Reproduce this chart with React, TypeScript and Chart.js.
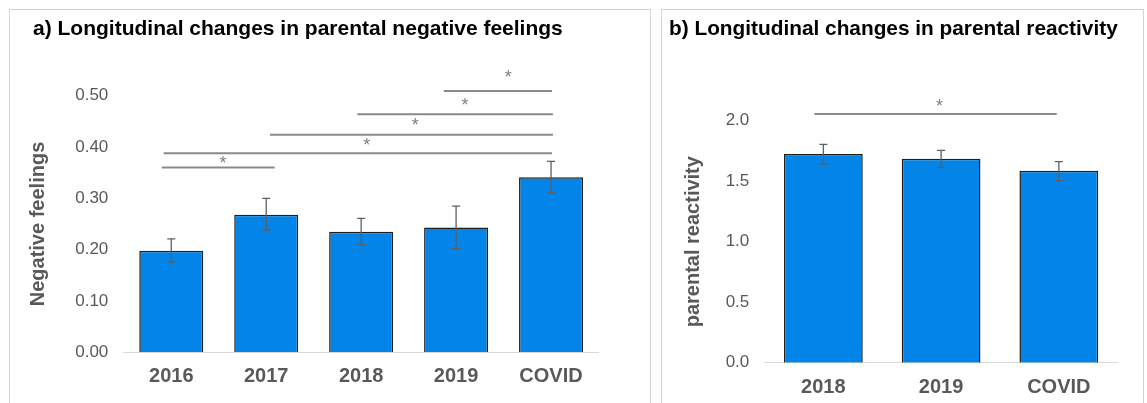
import React, { useEffect, useRef } from "react";
import { Chart, registerables } from "chart.js";
Chart.register(...registerables);

const FONT = "'Liberation Sans', Arial, Helvetica, sans-serif";

// ---------- Panel a data ----------
const categoriesA = ["2016", "2017", "2018", "2019", "COVID"];
const meansA = [0.198, 0.268, 0.235, 0.243, 0.341];
const errLowA = [0.176, 0.238, 0.21, 0.202, 0.311];
const errHighA = [0.221, 0.3, 0.261, 0.285, 0.372];
const yTicksA = [0, 0.1, 0.2, 0.3, 0.4, 0.5];
// [fromIndex, toIndex, value]
const sigLinesA = [
  [-0.1, 1.09, 0.36],
  [-0.08, 4.01, 0.388],
  [1.04, 4.02, 0.424],
  [1.96, 4.02, 0.464],
  [2.87, 4.01, 0.509],
];
// [index, value]
const sigStarsA = [
  [0.545, 0.375],
  [2.06, 0.41],
  [2.57, 0.449],
  [3.095, 0.488],
  [3.55, 0.542],
];

// ---------- Panel b data ----------
const categoriesB = ["2018", "2019", "COVID"];
const meansB = [1.725, 1.686, 1.587];
const errLowB = [1.642, 1.615, 1.504];
const errHighB = [1.805, 1.755, 1.661];
const yTicksB = [0, 0.5, 1, 1.5, 2];
const sigLinesB = [[-0.076, 1.982, 2.055]];
const sigStarsB = [[0.986, 2.144]];

const overlayPlugin = {
  id: "overlay",
  afterDatasetsDraw(chart: any, _args: any, opts: any) {
    const { ctx } = chart;
    const x = chart.scales.x;
    const y = chart.scales.y;
    ctx.save();
    // error bars
    ctx.strokeStyle = "#5f5f5f";
    ctx.lineWidth = 1.3;
    opts.low.forEach((lo: number, i: number) => {
      const px = x.getPixelForValue(i);
      const y0 = y.getPixelForValue(lo);
      const y1 = y.getPixelForValue(opts.high[i]);
      ctx.beginPath();
      ctx.moveTo(px, y0);
      ctx.lineTo(px, y1);
      ctx.moveTo(px - 4, y0);
      ctx.lineTo(px + 4, y0);
      ctx.moveTo(px - 4, y1);
      ctx.lineTo(px + 4, y1);
      ctx.stroke();
    });
    // significance lines
    ctx.strokeStyle = "#8a8a8a";
    ctx.lineWidth = 2;
    opts.lines.forEach(([a, b, v]: number[]) => {
      const py = y.getPixelForValue(v);
      ctx.beginPath();
      ctx.moveTo(x.getPixelForValue(a), py);
      ctx.lineTo(x.getPixelForValue(b), py);
      ctx.stroke();
    });
    ctx.fillStyle = "#808080";
    ctx.font = `18px ${FONT}`;
    ctx.textAlign = "center";
    ctx.textBaseline = "middle";
    opts.stars.forEach(([a, v]: number[]) => {
      ctx.fillText("*", x.getPixelForValue(a), y.getPixelForValue(v) + 4);
    });
    ctx.restore();
  },
};

function makeConfig(p: any): any {
  return {
    type: "bar",
    data: {
      labels: p.labels,
      datasets: [
        {
          data: p.values,
          backgroundColor: "#0284E8",
          borderColor: "#1f1f1f",
          borderWidth: 1.5,
          categoryPercentage: 1,
          barPercentage: p.barPct,
        },
      ],
    },
    plugins: [overlayPlugin],
    options: {
      responsive: false,
      animation: false,
      devicePixelRatio: 1,
      layout: { padding: { left: p.padLeft, right: p.padRight, top: 0, bottom: 0 } },
      plugins: {
        legend: { display: false },
        tooltip: { enabled: false },
        title: {
          display: true,
          text: p.title,
          align: "start",
          color: "#000000",
          font: { family: FONT, size: 21, weight: "bold", lineHeight: 1.2 },
          padding: { top: p.titleTop, bottom: p.titleBottom },
        },
        overlay: { low: p.low, high: p.high, lines: p.lines, stars: p.stars },
      },
      scales: {
        x: {
          grid: { display: false, drawTicks: false },
          border: { display: true, color: "#d9d9d9", width: 1 },
          ticks: {
            color: "#595959",
            font: { family: FONT, size: 20, weight: "bold", lineHeight: 1.2 },
            padding: p.xTickPad,
            maxRotation: 0,
          },
          afterFit: (s: any) => {
            s.height = p.xHeight;
          },
        },
        y: {
          min: 0,
          max: p.yTicks[p.yTicks.length - 1],
          grid: { display: false, drawTicks: false },
          border: { display: false },
          afterBuildTicks: (s: any) => {
            s.ticks = p.yTicks.map((v: number) => ({ value: v }));
          },
          ticks: {
            color: "#595959",
            font: { family: FONT, size: 17 },
            padding: p.yTickPad,
            callback: (v: any) => Number(v).toFixed(p.decimals),
          },
          title: {
            display: true,
            text: p.yTitle,
            color: "#595959",
            font: { family: FONT, size: 20, weight: "bold", lineHeight: 0.5 },
            padding: { top: p.yTitlePad, bottom: 0 },
          },
          afterFit: (s: any) => {
            s.width = p.yWidth;
          },
        },
      },
    },
  };
}

const panelA = {
  labels: categoriesA,
  values: meansA,
  low: errLowA,
  high: errHighA,
  lines: sigLinesA,
  stars: sigStarsA,
  yTicks: yTicksA,
  decimals: 2,
  title: "a) Longitudinal changes in parental negative feelings",
  yTitle: "Negative feelings",
  barPct: 0.674,
  padLeft: 21,
  padRight: 14.5,
  titleTop: 16.7,
  titleBottom: 53.8,
  xTickPad: 12.4,
  xHeight: 50.7,
  yTickPad: 15.5,
  yWidth: 90.8,
  yTitlePad: 0,
};

const panelB = {
  labels: categoriesB,
  values: meansB,
  low: errLowB,
  high: errHighB,
  lines: sigLinesB,
  stars: sigStarsB,
  yTicks: yTicksB,
  decimals: 1,
  title: "b) Longitudinal changes in parental reactivity",
  yTitle: "parental reactivity",
  barPct: 0.669,
  padLeft: 0,
  padRight: 26.3,
  titleTop: 16.4,
  titleBottom: 79.1,
  xTickPad: 12.8,
  xHeight: 40.3,
  yTickPad: 15.2,
  yWidth: 95.5,
  yTitlePad: 19,
};

function Panel({ p, left, width }: any) {
  const ref = useRef<HTMLCanvasElement | null>(null);
  useEffect(() => {
    const chart = new Chart(ref.current as HTMLCanvasElement, makeConfig(p));
    return () => chart.destroy();
  }, []);
  return (
    <canvas
      ref={ref}
      width={width}
      height={403}
      style={{ position: "absolute", left, top: 0, width, height: 403 }}
    />
  );
}

export default function App() {
  return (
    <div
      style={{
        position: "fixed",
        left: 0,
        top: 0,
        width: 1147,
        height: 403,
        overflow: "hidden",
        background: "#ffffff",
      }}
    >
      <div
        style={{
          position: "absolute",
          left: 9,
          top: 9,
          width: 642,
          height: 430,
          border: "1px solid #d4d4d4",
          boxSizing: "border-box",
        }}
      />
      <div
        style={{
          position: "absolute",
          left: 661,
          top: 9,
          width: 483,
          height: 430,
          border: "1px solid #d4d4d4",
          boxSizing: "border-box",
        }}
      />
      <Panel p={panelA} left={12} width={601} />
      <Panel p={panelB} left={669} width={475} />
    </div>
  );
}
